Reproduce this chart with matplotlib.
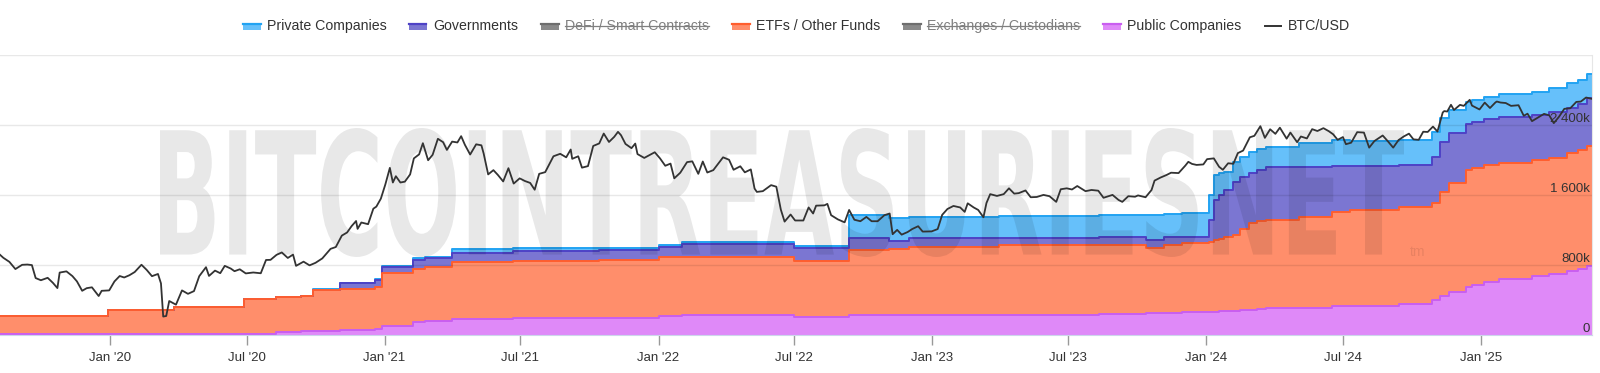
import numpy as np
import pandas as pd
import matplotlib
matplotlib.use('Agg')
import matplotlib.pyplot as plt
from matplotlib.textpath import TextPath
from matplotlib.patches import PathPatch, Rectangle
from matplotlib.font_manager import FontProperties
from matplotlib.transforms import Affine2D
from matplotlib.lines import Line2D
from matplotlib.ticker import NullLocator

plt.rcParams['font.family'] = ['Liberation Sans', 'DejaVu Sans']

# holdings per entity group, thousands of BTC (stacked bottom -> top)
hold_dates = ['2019-08-07', '2019-12-29', '2020-03-27', '2020-06-28', '2020-08-09', '2020-09-11',
              '2020-09-27', '2020-11-02', '2020-12-19', '2020-12-29', '2021-02-08', '2021-02-24',
              '2021-04-01', '2021-06-21', '2021-10-14', '2022-01-01', '2022-02-01', '2022-06-30',
              '2022-09-12', '2022-11-04', '2022-12-01', '2023-03-31', '2023-08-11', '2023-10-13',
              '2023-11-06', '2023-11-30', '2024-01-04', '2024-01-11', '2024-01-18', '2024-01-25',
              '2024-02-05', '2024-02-15', '2024-02-27', '2024-03-08', '2024-03-21', '2024-05-04',
              '2024-06-17', '2024-07-10', '2024-09-14', '2024-10-28', '2024-11-08', '2024-11-20',
              '2024-12-12', '2024-12-20', '2025-01-05', '2025-01-25', '2025-03-10', '2025-04-02',
              '2025-04-25', '2025-05-10', '2025-05-22', '2025-05-29']
public_cos = [11, 11, 11, 11, 34, 49, 51, 57, 63, 103, 152, 160, 179, 191, 200, 221, 223, 209,
              229, 229, 229, 229, 240, 246, 251, 263, 266, 266, 270, 274, 280, 285, 291, 298, 305,
              314, 326, 331, 360, 400, 446, 491, 552, 571, 610, 640, 674, 697, 726, 750, 789, 789]
etfs_funds = [209, 274, 312, 397, 397, 397, 463, 469, 489, 602, 599, 621, 651, 658, 657, 667, 665,
              637, 743, 754, 781, 794, 794, 752, 777, 785, 797, 819, 830, 846, 863, 930, 985, 1000,
              1009, 1038, 1083, 1097, 1106, 1114, 1189, 1242, 1334, 1334, 1333, 1331, 1326, 1331,
              1351, 1360, 1371, 1371]
governments = [0, 0, 0, 0, 0, 0, 3, 65, 77, 75, 106, 99, 110, 111, 114, 121, 152, 145, 134, 91,
               96, 91, 86, 88, 91, 75, 251, 457, 500, 537, 606, 590, 571, 590, 606, 571, 522, 509,
               477, 523, 571, 571, 526, 533, 525, 520, 514, 520, 518, 530, 549, 549]
private_cos = [0, 0, 0, 0, 0, 0, 5, 9, 11, 14, 19, 15, 39, 31, 29, 16, 19, 30, 266, 259, 243, 246,
               257, 286, 263, 267, 286, 286, 250, 206, 229, 235, 243, 240, 232, 267, 297, 280, 286,
               286, 274, 266, 251, 248, 255, 263, 263, 274, 286, 280, 274, 274]

# BTC/USD close
btc_dates = ['2019-08-07', '2019-08-12', '2019-08-20', '2019-08-28', '2019-09-06', '2019-09-13', '2019-09-19',
             '2019-09-24', '2019-10-01', '2019-10-10', '2019-10-17', '2019-10-23', '2019-10-26', '2019-11-04',
             '2019-11-12', '2019-11-18', '2019-11-25', '2019-12-01', '2019-12-08', '2019-12-17', '2019-12-21',
             '2019-12-31', '2020-01-07', '2020-01-14', '2020-01-20', '2020-01-27', '2020-02-03', '2020-02-12',
             '2020-02-19', '2020-02-26', '2020-03-05', '2020-03-09', '2020-03-12', '2020-03-16', '2020-03-20',
             '2020-03-29', '2020-04-06', '2020-04-14', '2020-04-22', '2020-04-29', '2020-05-08', '2020-05-12',
             '2020-05-20', '2020-05-27', '2020-06-02', '2020-06-10', '2020-06-15', '2020-06-22', '2020-06-30',
             '2020-07-10', '2020-07-20', '2020-07-27', '2020-08-02', '2020-08-10', '2020-08-17', '2020-08-25',
             '2020-09-01', '2020-09-05', '2020-09-15', '2020-09-23', '2020-10-01', '2020-10-10', '2020-10-21',
             '2020-10-28', '2020-11-05', '2020-11-12', '2020-11-18', '2020-11-24', '2020-11-26', '2020-12-01',
             '2020-12-10', '2020-12-17', '2020-12-21', '2020-12-27', '2021-01-02', '2021-01-08', '2021-01-12',
             '2021-01-16', '2021-01-22', '2021-01-28', '2021-02-04', '2021-02-09', '2021-02-16', '2021-02-21',
             '2021-02-28', '2021-03-06', '2021-03-13', '2021-03-20', '2021-03-25', '2021-04-01', '2021-04-08',
             '2021-04-13', '2021-04-18', '2021-04-25', '2021-05-03', '2021-05-10', '2021-05-13', '2021-05-19',
             '2021-05-26', '2021-06-01', '2021-06-08', '2021-06-15', '2021-06-22', '2021-06-30', '2021-07-07',
             '2021-07-14', '2021-07-20', '2021-07-26', '2021-08-03', '2021-08-14', '2021-08-23', '2021-08-31',
             '2021-09-06', '2021-09-08', '2021-09-16', '2021-09-21', '2021-09-29', '2021-10-06', '2021-10-14',
             '2021-10-20', '2021-10-27', '2021-11-03', '2021-11-08', '2021-11-12', '2021-11-18', '2021-11-26',
             '2021-12-01', '2021-12-04', '2021-12-13', '2021-12-21', '2021-12-27', '2022-01-03', '2022-01-10',
             '2022-01-17', '2022-01-22', '2022-01-30', '2022-02-08', '2022-02-15', '2022-02-23', '2022-03-01',
             '2022-03-07', '2022-03-15', '2022-03-28', '2022-04-05', '2022-04-11', '2022-04-20', '2022-04-26',
             '2022-05-04', '2022-05-09', '2022-05-12', '2022-05-20', '2022-05-31', '2022-06-07', '2022-06-13',
             '2022-06-18', '2022-06-26', '2022-07-02', '2022-07-13', '2022-07-20', '2022-07-26', '2022-07-30',
             '2022-08-10', '2022-08-14', '2022-08-19', '2022-08-28', '2022-09-06', '2022-09-12', '2022-09-19',
             '2022-09-27', '2022-10-05', '2022-10-12', '2022-10-20', '2022-10-29', '2022-11-05', '2022-11-09',
             '2022-11-15', '2022-11-21', '2022-11-29', '2022-12-05', '2022-12-13', '2022-12-19', '2022-12-31',
             '2023-01-08', '2023-01-14', '2023-01-21', '2023-01-29', '2023-02-07', '2023-02-13', '2023-02-17',
             '2023-02-25', '2023-03-03', '2023-03-10', '2023-03-14', '2023-03-19', '2023-03-28', '2023-04-06',
             '2023-04-13', '2023-04-20', '2023-04-26', '2023-05-05', '2023-05-12', '2023-05-20', '2023-05-29',
             '2023-06-06', '2023-06-15', '2023-06-21', '2023-06-29', '2023-07-06', '2023-07-13', '2023-07-24',
             '2023-08-01', '2023-08-10', '2023-08-17', '2023-08-29', '2023-09-06', '2023-09-11', '2023-09-19',
             '2023-09-28', '2023-10-02', '2023-10-12', '2023-10-20', '2023-10-24', '2023-11-01', '2023-11-09',
             '2023-11-15', '2023-11-25', '2023-12-04', '2023-12-08', '2023-12-13', '2023-12-19', '2023-12-28',
             '2024-01-02', '2024-01-11', '2024-01-18', '2024-01-23', '2024-01-30', '2024-02-06', '2024-02-12',
             '2024-02-19', '2024-02-28', '2024-03-05', '2024-03-13', '2024-03-19', '2024-03-26', '2024-04-02',
             '2024-04-08', '2024-04-17', '2024-04-22', '2024-05-01', '2024-05-06', '2024-05-14', '2024-05-21',
             '2024-05-28', '2024-06-05', '2024-06-12', '2024-06-18', '2024-06-24', '2024-07-01', '2024-07-05',
             '2024-07-12', '2024-07-20', '2024-07-29', '2024-08-05', '2024-08-12', '2024-08-23', '2024-08-30',
             '2024-09-06', '2024-09-13', '2024-09-20', '2024-09-27', '2024-10-03', '2024-10-10', '2024-10-16',
             '2024-10-22', '2024-10-29', '2024-11-04', '2024-11-11', '2024-11-13', '2024-11-17', '2024-11-22',
             '2024-11-26', '2024-12-04', '2024-12-09', '2024-12-17', '2024-12-20', '2024-12-30', '2025-01-06',
             '2025-01-13', '2025-01-20', '2025-01-22', '2025-01-27', '2025-02-03', '2025-02-10', '2025-02-20',
             '2025-02-27', '2025-03-04', '2025-03-10', '2025-03-18', '2025-03-26', '2025-04-02', '2025-04-08',
             '2025-04-15', '2025-04-22', '2025-04-30', '2025-05-08', '2025-05-14', '2025-05-21', '2025-05-28']
btc_usd = [11950, 11390, 10760, 9720, 10320, 10360, 10280, 8560, 8300, 8590, 8000, 7430, 9250, 9410,
           8800, 8170, 7150, 7420, 7510, 6640, 7150, 7190, 8160, 8810, 8630, 8910, 9320, 10330,
           9600, 8790, 9070, 7940, 4970, 5010, 6190, 5880, 7190, 6850, 7120, 8790, 9980, 8820,
           9510, 9170, 10170, 9790, 9430, 9690, 9140, 9260, 9160, 11050, 11070, 11880, 12290, 11370,
           11920, 10170, 10790, 10240, 10620, 11300, 12930, 13270, 15590, 16290, 17820, 19160, 17150, 18760,
           18320, 22800, 23480, 26270, 32130, 40580, 33000, 36070, 33000, 33400, 37000, 46400, 49100, 57500,
           45200, 48800, 61200, 58300, 52300, 58800, 58100, 63500, 56200, 49000, 56600, 55800, 49700, 37000,
           39300, 36700, 33500, 40400, 32500, 35000, 33700, 32800, 29800, 37300, 38200, 47800, 49500, 47100,
           52600, 46100, 47800, 40700, 41600, 55300, 57300, 65900, 58500, 62900, 67500, 64400, 56900, 53600,
           57200, 49300, 46700, 48900, 50600, 46400, 41800, 43100, 35000, 37900, 44000, 44500, 37300, 44400,
           38000, 39300, 47100, 45500, 39500, 41500, 38100, 39700, 30300, 28900, 29200, 31800, 31100, 22500,
           19000, 21000, 19300, 19300, 23200, 21300, 23800, 23900, 24400, 20800, 19600, 18800, 22400, 19500,
           19100, 20300, 19100, 19100, 20800, 21300, 15900, 16900, 15800, 16400, 17100, 17800, 16500, 16550,
           17100, 20900, 22700, 23700, 23200, 21800, 24600, 23200, 22400, 20200, 24700, 28000, 27300, 28000,
           30400, 28200, 28400, 29500, 26800, 26900, 27700, 27200, 25100, 30000, 30400, 29900, 31400, 29200,
           29700, 29400, 26600, 27700, 25800, 25100, 27200, 27000, 27500, 26800, 29700, 33900, 35400, 36700,
           37900, 37700, 41900, 44200, 42900, 42300, 42600, 45900, 46400, 41200, 39500, 43300, 43000, 50000,
           51800, 62500, 63800, 73100, 62000, 70000, 65600, 71600, 61300, 66800, 58300, 63200, 61500, 70100,
           68300, 71100, 68200, 65200, 60300, 62700, 56700, 57900, 67200, 66800, 54000, 59300, 64100, 59000,
           54000, 60000, 63200, 65800, 60700, 60300, 67600, 67400, 72700, 67800, 88700, 90500, 89900, 98900,
           91900, 98800, 97400, 106100, 97800, 92600, 102000, 94500, 102000, 103600, 102100, 101400, 97400, 98300,
           84700, 87200, 78500, 82700, 87000, 85200, 76300, 83600, 93400, 94200, 103000, 103500, 109600, 107800]

tick_dates = ['2020-01-01', '2020-07-01', '2021-01-01', '2021-07-01', '2022-01-01', '2022-07-01',
              '2023-01-01', '2023-07-01', '2024-01-01', '2024-07-01', '2025-01-01']
tick_labels = ["Jan '20", "Jul '20", "Jan '21", "Jul '21", "Jan '22", "Jul '22",
               "Jan '23", "Jul '23", "Jan '24", "Jul '24", "Jan '25"]
y_grid = [0, 800000, 1600000, 2400000, 3200000]
y_labels = ['0', '800k', '1 600k', '2 400k']

W, H = 1600, 373
fig = plt.figure(figsize=(W / 100, H / 100), dpi=100)
ax = fig.add_axes([0, (H - 335) / H, 1592 / W, (335 - 55) / H])

d = pd.to_datetime(hold_dates)
pub = np.array(public_cos) * 1000.0
etf = np.array(etfs_funds) * 1000.0
gov = np.array(governments) * 1000.0
prv = np.array(private_cos) * 1000.0
b1 = pub
b2 = b1 + etf
b3 = b2 + gov
b4 = b3 + prv

# (lower, upper, fill, edge) - top series drawn first so lower edges sit on top
layers = [
    (b3, b4, '#66c0fa', '#22a3f2'),
    (b2, b3, '#7b76d2', '#4e42c6'),
    (b1, b2, '#ff8e6b', '#ff5e2e'),
    (np.zeros_like(b1), b1, '#df89f8', '#c95ef0'),
]
for z, (lo, up, fc, ec) in enumerate(layers):
    ax.fill_between(d, lo, up, step='post', color=fc, lw=0, zorder=1 + z * 0.1)
    ax.step(d, up, where='post', color=ec, lw=1.4, zorder=1.5 + z * 0.1)

ax.set_ylim(0, 3200000)
ax.set_xlim(pd.Timestamp('2019-08-07 12:00'), pd.Timestamp('2025-05-28 22:00'))

for v in y_grid[1:]:
    ax.axhline(v, color='black', alpha=0.09, lw=1, zorder=2.5)
for v, lab in zip(y_grid, y_labels):
    ax.annotate(lab, xy=(1, v), xycoords=('axes fraction', 'data'), xytext=(-1.5, 2.3),
                textcoords='offset points', ha='right', va='baseline', fontsize=9.5,
                color='#333333', zorder=6)

ax.set_yticks([])
ax.set_xticks(pd.to_datetime(tick_dates))
ax.set_xticklabels(tick_labels)
ax.tick_params(axis='x', length=7, width=1, color='#999999', labelsize=9.5,
               labelcolor='#333333', pad=5)
for s in ['top', 'left']:
    ax.spines[s].set_visible(False)
ax.spines['bottom'].set_color('#ccd6eb')
ax.spines['right'].set_color('#e6e6e6')
ax.patch.set_visible(False)

# watermark, stretched into its box
tp = TextPath((0, 0), 'BITCOINTREASURIESNET', size=100,
              prop=FontProperties(family='DejaVu Sans', weight='bold'))
ext = tp.get_extents()
x0, x1 = 160, 1404
y0, y1 = H - 257, H - 128
tr = Affine2D().translate(-ext.x0, -ext.y0).scale((x1 - x0) / ext.width, (y1 - y0) / ext.height).translate(x0, y0)
wm = PathPatch(tp, transform=tr, facecolor='black', alpha=0.09, lw=0, zorder=3, clip_on=False)
ax.add_artist(wm)
fig.text(1410 / W, (H - 256) / H, 'tm', fontsize=10, color='black', alpha=0.09)

# BTC price on a hidden log axis
ax2 = ax.twinx()
ax2.set_yscale('log')
ax2.plot(pd.to_datetime(btc_dates), btc_usd, color='#333333', lw=1.3, zorder=5)
ax2.set_ylim(3830, 199800)
ax2.set_yticks([])
ax2.yaxis.set_minor_locator(NullLocator())
for s in ax2.spines.values():
    s.set_visible(False)
ax2.set_xlim(ax.get_xlim())

# legend, hand placed (icon x, text x)
legend_items = [
    ('Private Companies', 243, 267, '#66c0fa', '#22a3f2', False),
    ('Governments', 409, 433, '#7b76d2', '#4e42c6', False),
    ('DeFi / Smart Contracts', 541, 565, '#8a8a8a', '#6e6e6e', True),
    ('ETFs / Other Funds', 732, 756, '#ff8e6b', '#ff5e2e', False),
    ('Exchanges / Custodians', 903, 927, '#8a8a8a', '#6e6e6e', True),
    ('Public Companies', 1103, 1127, '#df89f8', '#c95ef0', False),
]


def fx(px):
    return px / W


def fy(py):
    return (H - py) / H


hidden_texts = []
for label, xi, xt, fc, ec, hidden in legend_items:
    fig.add_artist(Rectangle((fx(xi), fy(29.7)), 17.5 / W, 6.2 / H, transform=fig.transFigure,
                             facecolor=fc, edgecolor='none'))
    fig.add_artist(Line2D([fx(xi), fx(xi + 17.5)], [fy(24.3), fy(24.3)], transform=fig.transFigure,
                          color=ec, lw=1.6))
    t = fig.text(fx(xt), fy(30), label, fontsize=10.2, va='baseline',
                 color='#808080' if hidden else '#333333')
    if hidden:
        hidden_texts.append(t)

fig.add_artist(Line2D([fx(1265), fx(1281)], [fy(25.5), fy(25.5)], transform=fig.transFigure,
                      color='#333333', lw=1.4))
fig.text(fx(1288), fy(30), 'BTC/USD', fontsize=10.2, va='baseline', color='#333333')

fig.canvas.draw()
r = fig.canvas.get_renderer()
for t in hidden_texts:
    bb = t.get_window_extent(r)
    fig.add_artist(Line2D([bb.x0 / W, bb.x1 / W], [fy(25.5), fy(25.5)], transform=fig.transFigure,
                          color='#808080', lw=0.9))

fig.savefig('out.png', dpi=100)
